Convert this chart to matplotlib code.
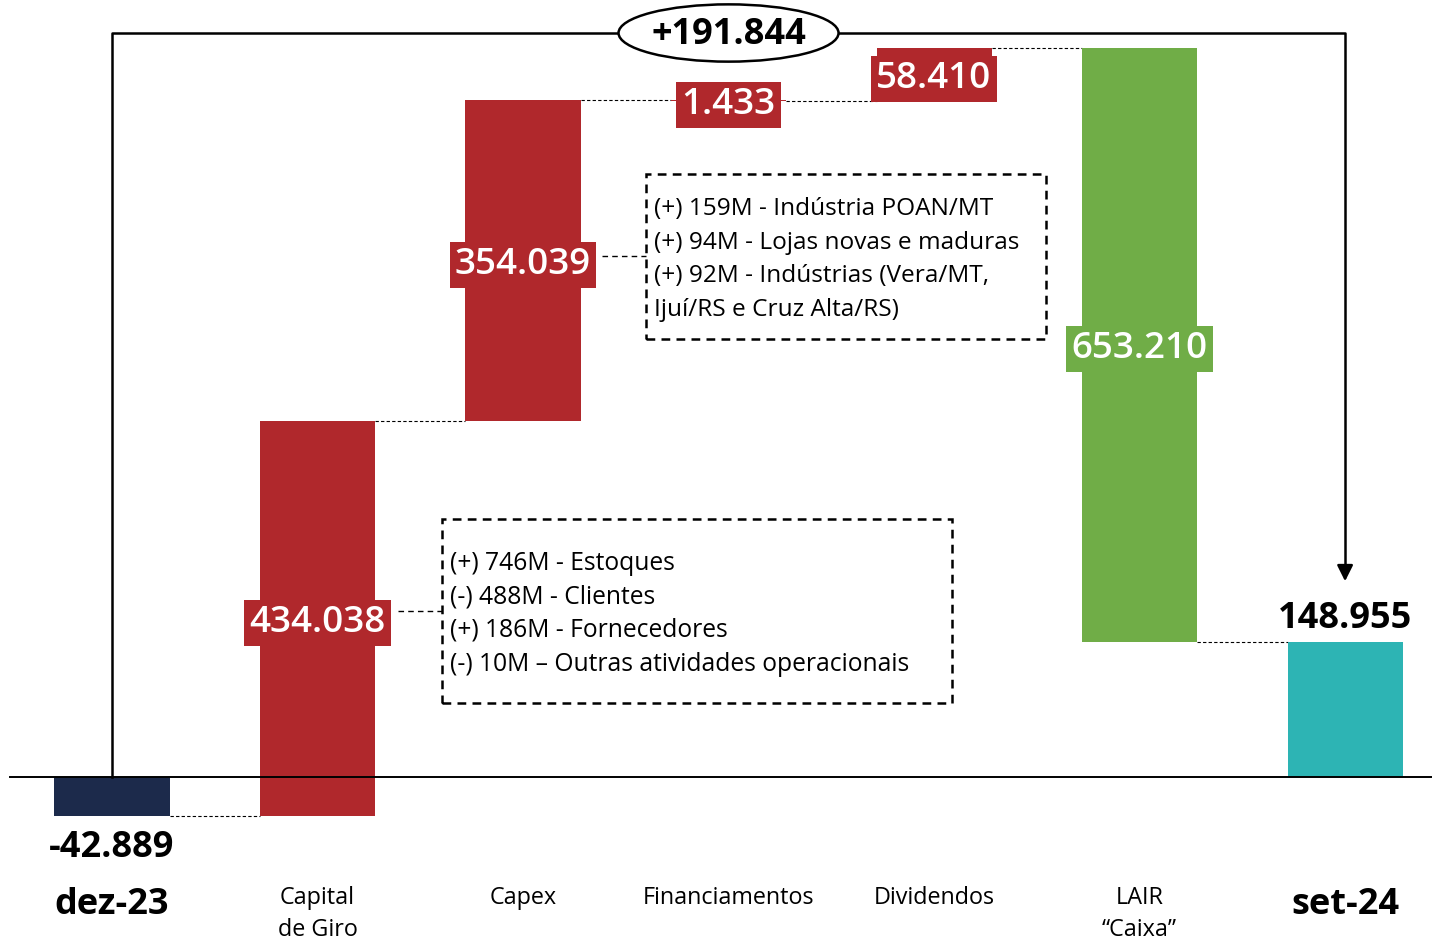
import matplotlib.pyplot as plt
from matplotlib.patches import Ellipse, Rectangle
import numpy as np

# Waterfall of cash (R$ mil), dez-23 -> set-24
categories = ['dez-23', 'Capital\nde Giro', 'Capex', 'Financiamentos',
              'Dividendos', 'LAIR\n\u201cCaixa\u201d', 'set-24']
start_value = -42889
changes = [434038, 354039, -1433, 58410, -653210]
end_value = 148955
change_labels = ['434.038', '354.039', '1.433', '58.410', '653.210']
start_label = '-42.889'
end_label = '148.955'
total_label = '+191.844'

notes_giro = ['(+) 746M - Estoques', '(-) 488M - Clientes',
              '(+) 186M - Fornecedores',
              '(-) 10M \u2013 Outras atividades operacionais']
notes_capex = ['(+) 159M - Ind\u00fastria POAN/MT',
               '(+) 94M - Lojas novas e maduras',
               '(+) 92M - Ind\u00fastrias (Vera/MT,',
               'Iju\u00ed/RS e Cruz Alta/RS)']

navy = '#1c2a4b'
red = '#b0282c'
green = '#70ad47'
teal = '#2db4b4'
change_colors = [red, red, red, red, green]

plt.rcParams['font.family'] = ['Open Sans', 'DejaVu Sans']

fig = plt.figure(figsize=(14.32, 9.40), dpi=100)
ax = fig.add_axes([0, 0, 1, 1])
ax.set_xlim(-0.545, 6.423)
ax.set_ylim(-179300, 854700)
ax.axis('off')


# helpers to place furniture by pixel position
def px_x(p):
    return (p - 112) / 205.5


def px_y(p):
    return (777 - p) * 1100


width = 0.56
x = np.arange(len(categories))

# bar geometry
levels = [start_value]
for c in changes:
    levels.append(levels[-1] + c)
bottoms = [0] + [min(levels[i], levels[i + 1]) for i in range(len(changes))] + [0]
heights = [start_value] + [abs(c) for c in changes] + [end_value]
colors = [navy] + change_colors + [teal]
ax.bar(x, heights, width=width, bottom=bottoms, color=colors, zorder=2)

# baseline
ax.axhline(0, xmin=10 / 1432, xmax=1, color='black', lw=1.4, zorder=3)

# dashed connectors between bars
for i in range(len(levels)):
    ax.plot([x[i] + width / 2, x[i + 1] - width / 2], [levels[i], levels[i]],
            color='black', lw=0.8, ls=(0, (3, 2)), zorder=1)

# value labels on the change bars
for i, (c, lab, col) in enumerate(zip(changes, change_labels, change_colors)):
    mid = levels[i] + c / 2
    ax.text(x[i + 1], mid, lab, ha='center', va='center_baseline',
            color='white', fontsize=26.5, fontweight='semibold', zorder=4,
            bbox=dict(boxstyle='square,pad=0.14', fc=col, ec='none'))

# start / end labels
ax.text(x[0], px_y(848), start_label, ha='center', va='center',
        fontsize=26, fontweight='bold')
ax.text(x[-1], px_y(619), end_label, ha='center', va='center',
        fontsize=26, fontweight='bold')

# category labels
for i, cat in enumerate(categories):
    if i in (0, len(categories) - 1):
        ax.text(x[i], px_y(905), cat, ha='center', va='center',
                fontsize=26, fontweight='bold')
    else:
        for k, part in enumerate(cat.split('\n')):
            ax.text(x[i], px_y(898 + 32 * k), part, ha='center',
                    va='center', fontsize=16.8)

# total arrow
arrow_y = px_y(33)
ax.plot([x[0], x[0], x[-1], x[-1]], [0, arrow_y, arrow_y, px_y(570)],
        color='black', lw=1.8, zorder=3)
ax.annotate('', xy=(x[-1], px_y(584)), xytext=(x[-1], px_y(566)),
            arrowprops=dict(arrowstyle='-|>', color='black', lw=1.8,
                            mutation_scale=24), zorder=3)
ax.add_patch(Ellipse((3, arrow_y), px_x(838) - px_x(618), 63000,
                     fc='white', ec='black', lw=1.8, zorder=4))
ax.text(3, px_y(35), total_label, ha='center', va='center', fontsize=26,
        fontweight='bold', zorder=5)


# note boxes
def note_box(x0, x1, y0, y1, lines, first, step, label_x, size):
    ax.add_patch(Rectangle((px_x(x0), px_y(y1)), px_x(x1) - px_x(x0),
                           px_y(y0) - px_y(y1), fill=False, ec='black',
                           lw=1.8, ls=(0, (3.5, 2.5)), zorder=3))
    mid = px_y((y0 + y1) / 2)
    ax.plot([px_x(label_x), px_x(x0)], [mid, mid], color='black', lw=1.0,
            ls=(0, (4, 3)))
    for k, line in enumerate(lines):
        ax.text(px_x(x0 + 8), px_y(first + 2 + step * k), line, ha='left',
                va='center', fontsize=size)


note_box(442, 952, 519, 703, notes_giro, 561, 33.7, 398, 17.7)
note_box(646, 1046, 174, 339, notes_capex, 207, 33.7, 602, 17.6)

fig.savefig('out.png', dpi=100)
